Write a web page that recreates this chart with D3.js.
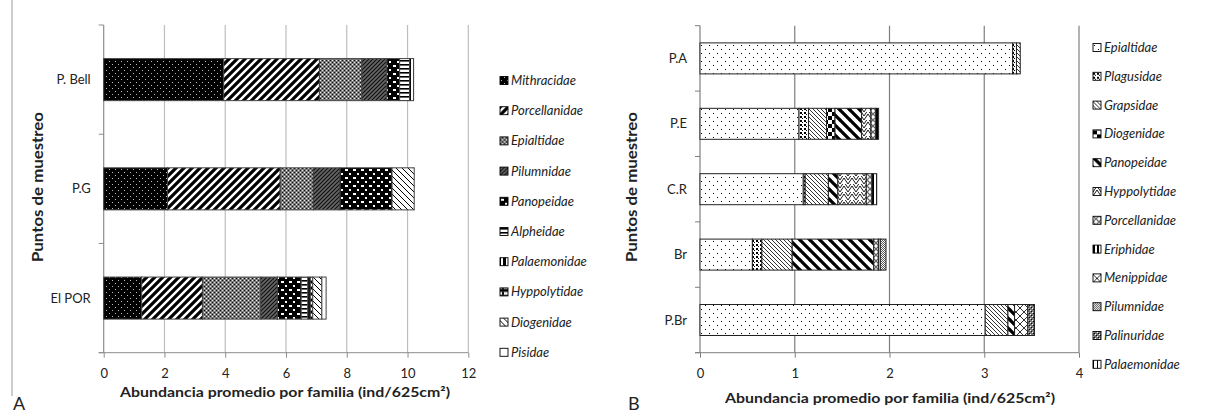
<!DOCTYPE html>
<html>
<head>
<meta charset="utf-8">
<script src="https://cdn.jsdelivr.net/npm/d3@7"></script>
<style>
  body { margin: 0; background: #fff; }
  text { font-family: Lato, "Open Sans", sans-serif; fill: #222; }
</style>
</head>
<body>
<svg id="chart" width="1207" height="415"></svg>
<script>
// ---- data, panel A (values per site, in the order of familiesA) ----
var sitesA = ['P. Bell', 'P.G', 'El POR'];
var familiesA = ['Mithracidae', 'Porcellanidae', 'Epialtidae', 'Pilumnidae', 'Panopeidae',
                 'Alpheidae', 'Palaemonidae', 'Hyppolytidae', 'Diogenidae', 'Pisidae'];
var pBell = [3.95, 3.15, 1.40, 0.82, 0.42, 0.33, 0.13, 0, 0, 0];
var pG    = [2.10, 3.71, 1.09, 0.88, 1.71, 0, 0, 0, 0.73, 0];
var elPor = [1.25, 2.00, 1.92, 0.55, 0.78, 0.22, 0.08, 0.08, 0.30, 0.14];
var ticksA = [0, 2, 4, 6, 8, 10, 12];

// ---- data, panel B (values per site, in the order of familiesB) ----
var sitesB = ['P.A', 'P.E', 'C.R', 'Br', 'P.Br'];
var familiesB = ['Epialtidae', 'Plagusidae', 'Grapsidae', 'Diogenidae', 'Panopeidae', 'Hyppolytidae',
                 'Porcellanidae', 'Eriphidae', 'Menippidae', 'Pilumnidae', 'Palinuridae', 'Palaemonidae'];
var pA  = [3.30, 0.04, 0.04, 0, 0, 0, 0, 0, 0, 0, 0, 0];
var pE  = [1.045, 0.10, 0.19, 0.09, 0.28, 0.10, 0.05, 0.03, 0, 0, 0, 0];
var cR  = [1.09, 0.02, 0.245, 0, 0.10, 0.30, 0.06, 0.05, 0, 0, 0, 0];
var br  = [0.553, 0.10, 0.32, 0, 0.86, 0, 0.05, 0.02, 0, 0.06, 0, 0];
var pBr = [3.01, 0, 0.24, 0, 0.07, 0, 0, 0, 0.14, 0, 0.07, 0];
var ticksB = [0, 1, 2, 3, 4];

var xTitle = 'Abundancia promedio por familia (ind/625cm\u00b2)';
var yTitle = 'Puntos de muestreo';

var svg = d3.select('#chart');
var defs = svg.append('defs');

// ---- fill patterns ----
function pattern(id, w, h, bg, draw) {
    var p = defs.append('pattern').attr('id', id)
        .attr('patternUnits', 'userSpaceOnUse').attr('width', w).attr('height', h);
    p.append('rect').attr('width', w).attr('height', h).attr('fill', bg);
    draw(p);
}
function px(p, pts, col) {
    pts.forEach(function (d) {
        p.append('rect').attr('x', d[0]).attr('y', d[1]).attr('width', d[2] || 1).attr('height', d[3] || 1).attr('fill', col);
    });
}
function ln(p, d, col, w) {
    p.append('path').attr('d', d).attr('stroke', col).attr('stroke-width', w).attr('fill', 'none');
}

// panel A
pattern('a-mith', 6, 6, '#000', function (p) { px(p, [[1, 1], [4, 4]], '#bbb'); });
pattern('a-porc', 8, 8, '#fff', function (p) { ln(p, 'M-2,10 L10,-2 M-6,6 L6,-6 M2,14 L14,2', '#000', 3.2); });
pattern('a-epia', 4, 4, '#7a7a7a', function (p) { px(p, [[0, 0], [2, 2]], '#eee'); px(p, [[2, 0], [0, 2]], '#111'); });
pattern('a-pilu', 4, 4, '#666', function (p) { ln(p, 'M-1,5 L5,-1 M-1,1 L1,-1 M3,5 L5,3', '#111', 1.2); });
pattern('a-pano', 8, 8, '#000', function (p) { px(p, [[1, 1, 3, 2], [5, 5, 2, 2]], '#fff'); });
pattern('a-alph', 8, 4, '#fff', function (p) { px(p, [[0, 0, 8, 1.6]], '#000'); });
pattern('a-pala', 5, 8, '#000', function (p) { px(p, [[1, 0, 2, 8]], '#fff'); });
pattern('a-hypp', 6, 6, '#fff', function (p) { px(p, [[0, 0, 6, 1.5], [0, 4.5, 6, 1.5], [2, 1.5, 2, 3]], '#000'); });
pattern('a-diog', 6, 6, '#fff', function (p) { ln(p, 'M-1,-1 L7,7 M-1,5 L1,7 M5,-1 L7,1', '#000', 1); });
pattern('a-pisi', 4, 4, '#fff', function () {});

// panel B
pattern('b-epia', 8, 8, '#fff', function (p) { px(p, [[1, 1], [5, 5]], '#000'); });
pattern('b-plag', 4, 4, '#fff', function (p) { px(p, [[0, 0, 2, 2], [2, 2, 1, 1]], '#000'); });
pattern('b-grap', 4, 4, '#fff', function (p) { ln(p, 'M-1,-1 L5,5 M-1,3 L1,5 M3,-1 L5,1', '#000', 0.8); });
pattern('b-diog', 8, 8, '#fff', function (p) { px(p, [[0, 0, 4, 4], [4, 4, 4, 4]], '#000'); });
pattern('b-pano', 10, 10, '#fff', function (p) { ln(p, 'M-1,-1 L11,11 M-1,9 L1,11 M9,-1 L11,1', '#000', 3.2); });
pattern('b-hypp', 8, 8, '#fff', function (p) { ln(p, 'M0,8 L4,2 L8,8 M0,4 L4,-2 L8,4', '#000', 0.9); });
pattern('b-porc', 6, 6, '#fff', function (p) { p.append('circle').attr('cx', 3).attr('cy', 3).attr('r', 2.4).attr('fill', 'none').attr('stroke', '#000').attr('stroke-width', 0.8); });
pattern('b-erip', 4, 4, '#fff', function (p) { px(p, [[0, 0, 2, 4]], '#000'); });
pattern('b-meni', 8, 8, '#fff', function (p) { ln(p, 'M0,0 L8,8 M8,0 L0,8', '#000', 0.8); });
pattern('b-pilu', 2, 2, '#fff', function (p) { px(p, [[0, 0], [1, 1]], '#555'); });
pattern('b-pali', 4, 4, '#777', function (p) { px(p, [[0, 0], [2, 2]], '#fff'); px(p, [[1, 1], [3, 3]], '#000'); });
pattern('b-pala', 4, 4, '#fff', function (p) { px(p, [[0, 0, 1, 4]], '#000'); });

var fillA = ['a-mith', 'a-porc', 'a-epia', 'a-pilu', 'a-pano', 'a-alph', 'a-pala', 'a-hypp', 'a-diog', 'a-pisi'];
var fillB = ['b-epia', 'b-plag', 'b-grap', 'b-diog', 'b-pano', 'b-hypp', 'b-porc', 'b-erip', 'b-meni', 'b-pilu', 'b-pali', 'b-pala'];

// ---- one panel ----
function panel(opt) {
    var rows = opt.sites.map(function (s, i) {
        var r = { site: s };
        opt.families.forEach(function (f, j) { r[f] = opt.values[i][j]; });
        return r;
    });
    var series = d3.stack().keys(opt.families)(rows);

    var x = d3.scaleLinear().domain([opt.ticks[0], opt.ticks[opt.ticks.length - 1]]).range(opt.xr);
    var y = d3.scaleBand().domain(opt.sites).range(opt.yr)
        .paddingInner(opt.pad).paddingOuter(opt.pad / 2);
    var g = svg.append('g');

    // vertical grid
    g.selectAll('.grid').data(opt.ticks.slice(1)).enter().append('line')
        .attr('x1', function (d) { return x(d); }).attr('x2', function (d) { return x(d); })
        .attr('y1', opt.yr[0]).attr('y2', opt.yr[1])
        .attr('stroke', opt.grid).attr('stroke-width', 1.2);

    // x axis
    var xa = g.append('g').attr('transform', 'translate(0,' + opt.yr[1] + ')')
        .call(d3.axisBottom(x).tickValues(opt.ticks).tickFormat(d3.format('d'))
            .tickSize(5).tickPadding(11).tickSizeOuter(0));
    xa.select('.domain').attr('stroke', opt.axis).attr('d', 'M' + (opt.xr[0] - 5) + ',0H' + opt.xr[1]);
    xa.selectAll('.tick line').attr('stroke', opt.axis);
    xa.selectAll('text').style('font-size', '13px').style('font-family', 'Lato, sans-serif').attr('fill', '#222');

    // y axis line and boundary ticks
    var bounds = d3.range(opt.sites.length + 1).map(function (i) { return opt.yr[0] + i * y.step(); });
    g.append('line').attr('x1', opt.xr[0]).attr('x2', opt.xr[0]).attr('y1', opt.yr[0]).attr('y2', opt.yr[1])
        .attr('stroke', opt.axis).attr('stroke-width', 1.2);
    g.selectAll('.yt').data(bounds).enter().append('line')
        .attr('x1', opt.xr[0] - 5).attr('x2', opt.xr[0])
        .attr('y1', function (d) { return d; }).attr('y2', function (d) { return d; })
        .attr('stroke', opt.axis);
    g.selectAll('.yl').data(opt.sites).enter().append('text')
        .attr('x', opt.xr[0] - 13).attr('y', function (d) { return y(d) + y.bandwidth() / 2 + 4.5; })
        .attr('text-anchor', 'end').style('font-size', '13px').text(function (d) { return d; });

    // bars
    series.forEach(function (s, j) {
        g.append('g').selectAll('rect').data(s.filter(function (d) { return d[1] > d[0]; })).enter().append('rect')
            .attr('x', function (d) { return x(d[0]); })
            .attr('width', function (d) { return x(d[1]) - x(d[0]); })
            .attr('y', function (d) { return y(d.data.site); })
            .attr('height', y.bandwidth())
            .attr('fill', 'url(#' + opt.fills[j] + ')')
            .attr('stroke', opt.barStroke).attr('stroke-width', 1);
    });

    // titles
    g.append('text').attr('x', opt.xTitleX).attr('y', opt.xTitleY)
        .attr('text-anchor', 'middle').style('font-size', '14px').style('font-weight', 'bold')
        .attr('textLength', 330).attr('lengthAdjust', 'spacingAndGlyphs').text(xTitle);
    g.append('text').attr('transform', 'translate(' + opt.yTitleX + ',' + opt.yTitleY + ') rotate(-90)')
        .attr('text-anchor', 'middle').style('font-size', '15px').style('font-weight', 'bold')
        .attr('textLength', 150).attr('lengthAdjust', 'spacingAndGlyphs').text(yTitle);

    // legend
    var lg = g.selectAll('.lg').data(opt.families).enter().append('g')
        .attr('transform', function (d, i) { return 'translate(' + opt.legX + ',' + (opt.legY + i * opt.legStep) + ')'; });
    lg.append('rect').attr('x', 0).attr('y', -8.5).attr('width', 8).attr('height', 8)
        .attr('fill', function (d, i) { return 'url(#' + opt.fills[i] + ')'; })
        .attr('stroke', '#000').attr('stroke-width', 0.9);
    lg.append('text').attr('x', 11).attr('y', 0)
        .style('font-size', '13px').style('font-style', 'italic').text(function (d) { return d; });

    // panel letter
    g.append('text').attr('x', opt.letterX).attr('y', 410).style('font-size', '18px').text(opt.letter);
}

panel({
    sites: sitesA, families: familiesA, values: [pBell, pG, elPor], ticks: ticksA, fills: fillA,
    xr: [103.7, 468.3], yr: [25, 352.7], pad: 0.615, grid: '#bdbdbd', axis: '#8c8c8c', barStroke: '#444',
    xTitleX: 285, xTitleY: 397, yTitleX: 43, yTitleY: 187, legX: 500, legY: 85, legStep: 30.2, letter: 'A', letterX: 13
});
panel({
    sites: sitesB, families: familiesB, values: [pA, pE, cR, br, pBr], ticks: ticksB, fills: fillB,
    xr: [700, 1079], yr: [25.7, 352.7], pad: 0.526, grid: '#7f7f7f', axis: '#7f7f7f', barStroke: '#222',
    xTitleX: 890, xTitleY: 403, yTitleX: 637, yTitleY: 187, legX: 1093, legY: 52, legStep: 28.8, letter: 'B', letterX: 628
});

// left frame line of panel A
svg.append('line').attr('x1', 12).attr('x2', 12).attr('y1', 0).attr('y2', 396)
    .attr('stroke', '#999').attr('stroke-width', 1);
</script>
</body>
</html>
